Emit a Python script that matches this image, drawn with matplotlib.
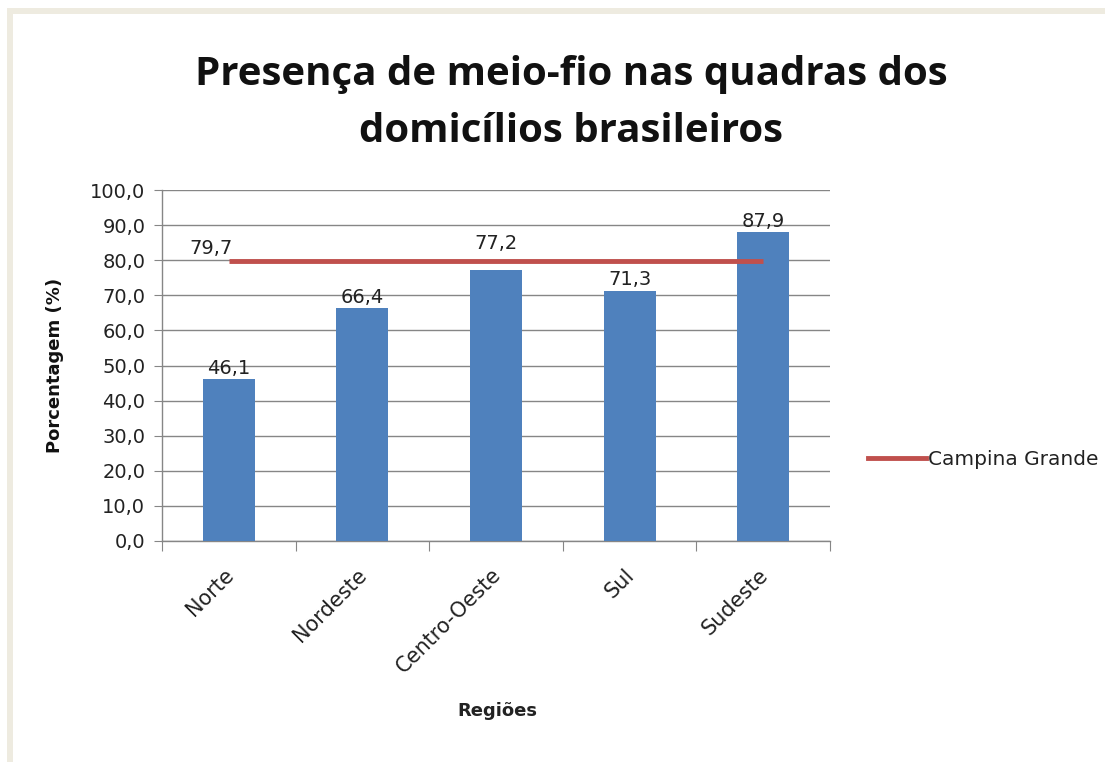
import matplotlib
matplotlib.use("Agg")
import matplotlib.pyplot as plt
from matplotlib.patches import Rectangle
from matplotlib.lines import Line2D

regions = ["Norte", "Nordeste", "Centro-Oeste", "Sul", "Sudeste"]
values = [46.1, 66.4, 77.2, 71.3, 87.9]
campina_grande = 79.7
yticks = [0, 10, 20, 30, 40, 50, 60, 70, 80, 90, 100]

BLUE = "#4F81BD"
RED = "#C0504D"
GRID = "#868686"
TXT = "#222222"
FS = 14

fig = plt.figure(figsize=(11.05, 7.62), dpi=100)
fig.patch.set_facecolor("white")

W, H = 1105, 762
# outer frame band (beige)
fig.patches.append(Rectangle((7/W, 0), 6/W, 1 - 8/H, transform=fig.transFigure,
                             facecolor="#EEEBE0", edgecolor="none"))
fig.patches.append(Rectangle((7/W, 1 - 14/H), 1, 6/H, transform=fig.transFigure,
                             facecolor="#EEEBE0", edgecolor="none"))

ax = fig.add_axes([162/W, 1 - 541/H, (830-162)/W, (541-190)/H])
x = list(range(len(regions)))
ax.bar(x, values, width=0.39, color=BLUE, zorder=3)
ax.set_xlim(-0.5, len(regions) - 0.5)
ax.set_ylim(0, 100)
ax.set_yticks(yticks)
ax.set_yticklabels([f"{v:.1f}".replace(".", ",") for v in yticks], fontsize=FS, color=TXT)
ax.yaxis.grid(True, color=GRID, linewidth=1.0, zorder=0)
ax.set_axisbelow(True)
for s in ["top", "right"]:
    ax.spines[s].set_visible(False)
for s in ["left", "bottom"]:
    ax.spines[s].set_color(GRID)
    ax.spines[s].set_linewidth(1.0)
ax.tick_params(axis="y", length=6, color=GRID, pad=6)
# x ticks at category boundaries
ax.set_xticks([i - 0.5 for i in range(len(regions) + 1)], minor=False)
ax.set_xticklabels([])
ax.tick_params(axis="x", length=7, color=GRID)
for i, r in enumerate(regions):
    ax.annotate(r, xy=(i, 0), xycoords=("data", "axes fraction"), xytext=(-4, -17),
                textcoords="offset points", rotation=45, ha="right", va="top",
                fontsize=15, color=TXT, rotation_mode="anchor")

# Campina Grande line
ax.plot([x[0], x[-1]], [campina_grande, campina_grande], color=RED, linewidth=3.5,
        zorder=4, solid_capstyle="butt", label="Campina Grande")
ax.annotate(f"{campina_grande:.1f}".replace(".", ","), xy=(x[0], campina_grande),
            xytext=(-13, 2), textcoords="offset points", ha="center", va="bottom",
            fontsize=FS, color=TXT)

# bar labels
for i, v in enumerate(values):
    off = 1
    if regions[i] == "Centro-Oeste":
        off = 12
    ax.annotate(f"{v:.1f}".replace(".", ","), xy=(i, v), xytext=(0, off),
                textcoords="offset points", ha="center", va="bottom",
                fontsize=FS, color=TXT, zorder=5)

fig.text(55/W, 1 - 365/H, "Porcentagem (%)", fontsize=13, fontweight="bold",
         rotation=90, ha="center", va="center", color="#111111")
fig.text(497/W, 1 - 711/H, "Regiões", fontsize=13, fontweight="bold",
         ha="center", va="center", color=TXT)

fig.text(571/W, 1 - 75/H, "Presença de meio-fio nas quadras dos", fontsize=29,
         fontweight="bold", family="Open Sans", ha="center", va="center", color="#111111")
fig.text(571/W, 1 - 131/H, "domicílios brasileiros", fontsize=29,
         fontweight="bold", family="Open Sans", ha="center", va="center", color="#111111")

# legend
fig.lines.append(Line2D([868/W, 926/W], [1 - 458/H, 1 - 458/H], transform=fig.transFigure,
                        color=RED, linewidth=3.5))
fig.text(928/W, 1 - 459/H, "Campina Grande", fontsize=14.5, ha="left", va="center",
         color=TXT)

fig.savefig("out.png", dpi=100)
